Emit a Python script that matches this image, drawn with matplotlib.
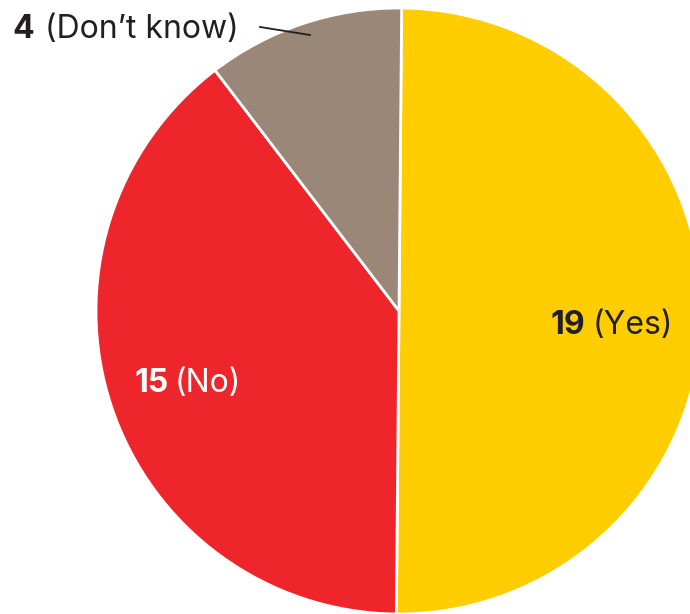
import matplotlib.pyplot as plt

# survey answers
labels = ['Yes', 'No', "Don\u2019t know"]
counts = [19, 15, 4]
colors = ['#FFCD00', '#EE252B', '#9B8777']

plt.rcParams['font.family'] = ['Inter', 'DejaVu Sans']

fig = plt.figure(figsize=(6.9, 6.14), dpi=100)
# square axes, 606 px wide, pie centred near (399, 311) px
ax = fig.add_axes([96 / 690, 0.0, 606 / 690, 606 / 614])
ax.pie(counts, colors=colors, startangle=89.5, counterclock=False, radius=1.0,
       wedgeprops=dict(edgecolor='white', linewidth=2))
ax.set_xlim(-1, 1)
ax.set_ylim(-1, 1)
ax.set_aspect('auto')
ax.axis('off')


def px(x, y):
    # pixel position in the picture -> figure fraction
    return x / 690, 1 - y / 614


dark = '#231F20'
fs = 23

# Yes label
fig.text(*px(551, 326), str(counts[0]), fontsize=fs, fontweight='bold',
         color=dark, va='center', ha='left')
fig.text(*px(593, 326), f'({labels[0]})', fontsize=fs, color=dark,
         va='center', ha='left')

# No label
fig.text(*px(134, 384), str(counts[1]), fontsize=fs, fontweight='bold',
         color='white', va='center', ha='left')
fig.text(*px(175, 384), f'({labels[1]})', fontsize=fs, color='white',
         va='center', ha='left')

# Don't know label with leader line
fig.text(*px(12, 30), str(counts[2]), fontsize=fs, fontweight='bold',
         color=dark, va='center', ha='left')
fig.text(*px(45, 30), f'({labels[2]})', fontsize=fs, color=dark,
         va='center', ha='left')
fig.add_artist(plt.Line2D([260 / 690, 310 / 690], [1 - 27 / 614, 1 - 35 / 614],
                          color=dark, linewidth=1.3))

fig.savefig('out.png', dpi=100)
